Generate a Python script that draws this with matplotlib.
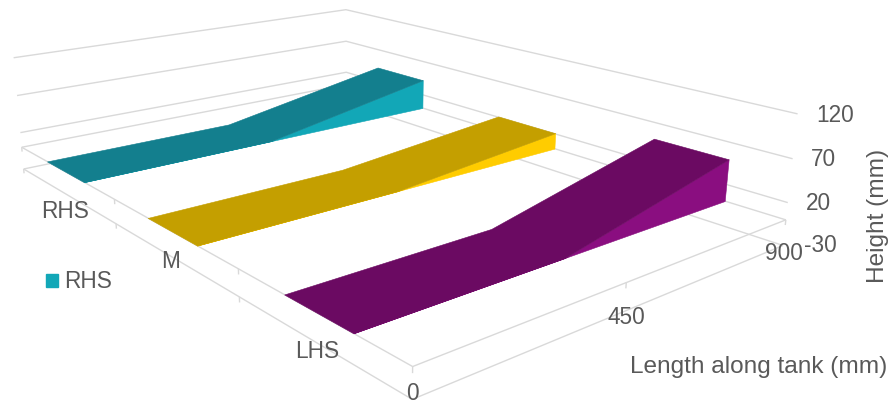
import numpy as np
import matplotlib
matplotlib.use('Agg')
import matplotlib.pyplot as plt
from matplotlib.patches import Patch
from mpl_toolkits.mplot3d.art3d import Poly3DCollection

# --- data -------------------------------------------------------------
length_mm = [0, 450, 900]
series_names = ['LHS', 'M', 'RHS']
lhs_height = [0, 0, 50]
m_height = [0, 0, 21]
rhs_height = [0, 0, 42]
height_ticks = [-30, 20, 70, 120]
length_ticks = [0, 450, 900]
top_colors = ['#6B0A62', '#C49F00', '#137F8E']
side_colors = ['#8A0E80', '#FFCC00', '#12A7B7']

GRID = '#D9D9D9'
TEXT = '#595959'
W, H = 890, 405

plt.rcParams['font.family'] = ['Liberation Sans', 'DejaVu Sans']
fig = plt.figure(figsize=(W / 100, H / 100), dpi=100, facecolor='white')

# camera and box (fitted against the reference's wall corners)
side = 784.0
left, top = -33.77, -237.0
ax = fig.add_axes([left / W, (H - (top + side)) / H, side / W, side / H], projection='3d')
ax.set_proj_type('persp', focal_length=0.2768)
ax.view_init(elev=16.96, azim=-128.91, roll=0)
ax.set_box_aspect((np.exp(-0.3715), 1, np.exp(-1.6507)))
ax.set_xlim3d(0, 900, view_margin=0)
ax.set_ylim3d(0, 3, view_margin=0)
ax.set_zlim3d(-30, 120, view_margin=0)
ax.set_axis_off()
ax.computed_zorder = False
ax.patch.set_alpha(0)

xmin, xmax = length_mm[0], length_mm[-1]
ymax = len(series_names)
zmin = height_ticks[0]
line_kw = dict(color=GRID, lw=1.0, zorder=1, solid_capstyle='butt', clip_on=False)

# wall gridlines (left-back wall and right-back wall)
for z in height_ticks:
    ax.plot([xmin, xmax, xmax], [ymax, ymax, 0], [z, z, z], **line_kw)
ax.plot([xmin, xmax, xmax], [ymax, ymax, 0], [0, 0, 0], **line_kw)

# the two pairs of axis lines: at zero and at the bottom of the height scale
for z in (0, zmin):
    ax.plot([xmin, xmin, xmax], [ymax, 0, 0], [z, z, z], **line_kw)

# tick marks
tick_len = 6
for y in range(ymax + 1):
    ax.plot([xmin, xmin], [y, y], [0, -tick_len], **line_kw)
    if y > 0:
        ax.plot([xmin, xmin], [y, y], [zmin, zmin - tick_len], **line_kw)
for x in length_ticks[1:]:
    ax.plot([x, x], [0, 0], [0, -tick_len], **line_kw)

# ribbons, back to front
half_depth = 0.2
series = [lhs_height, m_height, rhs_height]
for i in (2, 1, 0):
    h = series[i]
    y0, y1 = i + 0.5 - half_depth, i + 0.5 + half_depth
    front_edge = [(x, y0, z) for x, z in zip(length_mm, h)]
    back_edge = [(x, y1, z) for x, z in zip(length_mm, h)]
    top_face = front_edge + back_edge[::-1]
    side_face = front_edge + [(xmax, y0, 0), (xmin, y0, 0)]
    side_poly = Poly3DCollection([side_face], facecolors=side_colors[i], edgecolors=side_colors[i],
                                 linewidths=0.4, zorder=3 + 2 * (2 - i))
    top_poly = Poly3DCollection([top_face], facecolors=top_colors[i], edgecolors=top_colors[i],
                                linewidths=0.4, zorder=4 + 2 * (2 - i))
    for poly in (side_poly, top_poly):
        poly.set_clip_on(False)
        ax.add_collection3d(poly, autolim=False)


def label(px, py, s, size=16.3, **kw):
    kw.setdefault('ha', 'center')
    fig.text(px / W, 1 - py / H, s, va='center', color=TEXT, fontsize=size, **kw)


for name, (px, py) in zip(series_names, [(317, 352), (171, 262), (65, 211)]):
    label(px, py, name)
for t, (px, py) in zip(length_ticks, [(412, 394), (626, 318), (784, 254)]):
    label(px, py, str(t))
for t, (px, py) in zip(height_ticks, [(820, 246), (818, 203), (823, 159), (835, 116)]):
    label(px, py, str(t))
label(759, 367, 'Length along tank (mm)', size=17.6)
label(878, 216, 'Height (mm)', size=17.6, rotation=90)

fig.legend(handles=[Patch(color=side_colors[2], label=series_names[2])],
           loc='center left', bbox_to_anchor=(46 / W, 1 - 282 / H), frameon=False,
           fontsize=16.3, labelcolor=TEXT, handlelength=0.53, handleheight=0.53,
           handletextpad=0.27, borderpad=0, borderaxespad=0)

fig.savefig('out.png', dpi=100, facecolor='white')
